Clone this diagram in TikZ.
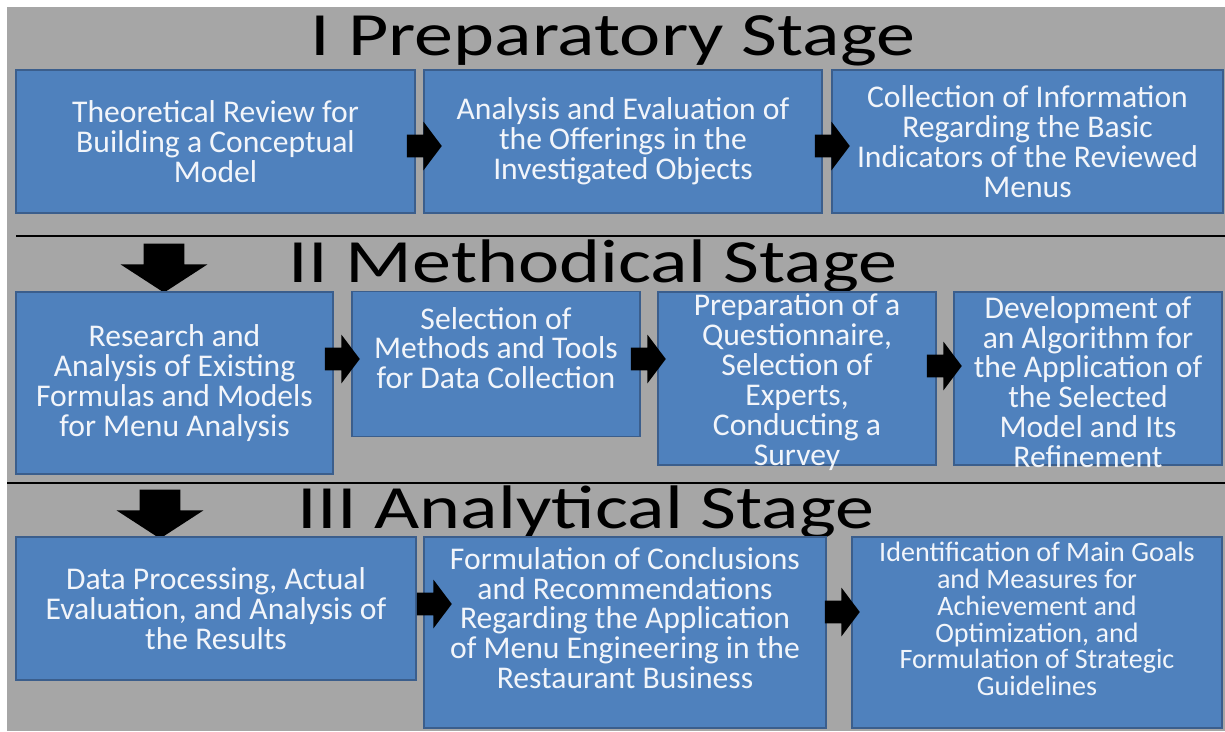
\documentclass[tikz,border=0pt]{standalone}
\usepackage{fontspec}
\setmainfont{Carlito}
\newfontfamily\stagefont{Carlito}[FakeStretch=1.27]
\usetikzlibrary{shapes.arrows}
\definecolor{bgray}{HTML}{A6A6A6}
\definecolor{bblue}{HTML}{4F81BD}
\definecolor{bline}{HTML}{3B5E8C}
\definecolor{btext}{HTML}{F2F5FA}

\begin{document}
\begin{tikzpicture}[x=0.02cm,y=-0.02cm]
  \tikzstyle{box}=[draw=bline,fill=bblue,line width=1pt,inner sep=0pt]
  \tikzstyle{txt}=[text=btext,align=center,inner sep=0pt,font=\fontsize{18}{17}\selectfont]
  \tikzstyle{ttl}=[anchor=base,inner sep=0pt,font=\stagefont\fontsize{35}{35}\selectfont]
  \tikzstyle{ar}=[single arrow,fill=black,inner xsep=0pt,inner ysep=0.22cm,minimum height=0.7cm,single arrow head extend=0.26cm,single arrow tip angle=106]
  \tikzstyle{dar}=[single arrow,rotate=-90,fill=black,inner xsep=0pt,inner ysep=0.4cm,minimum height=0.98cm,single arrow head extend=0.46cm,single arrow tip angle=114]

  \useasboundingbox (0,0) rectangle (1225,731);
  \fill[white] (0,0) rectangle (1225,731);
  \fill[bgray] (7,7) rectangle (1225,731);

  % stage I
  \node[ttl] (H1) at (613,55) {I Preparatory Stage};
  \node[box,minimum width=7.98cm,minimum height=2.86cm] (B1) at (215.5,141.5) {};
  \node[box,minimum width=7.96cm,minimum height=2.86cm] (B2) at (623,141.5) {};
  \node[box,minimum width=7.82cm,minimum height=2.86cm] (B3) at (1027.5,141.5) {};
  \node[txt] (T1) at (B1) {Theoretical Review for\\Building a Conceptual\\Model};
  \node[txt] (T2) at (B2) {Analysis and Evaluation of\\the Offerings in the\\Investigated Objects};
  \node[txt] (T3) at (B3) {Collection of Information\\Regarding the Basic\\Indicators of the Reviewed\\Menus};
  \node[ar] (A1) at (420,146) {};
  \node[ar] (A2) at (828,146) {};

  \coordinate (L1a) at (16,236);
  \coordinate (L1b) at (1225,236);
  \draw[line width=1.4pt] (L1a) -- (L1b);
  \node[dar] (V1) at (164,261.5) {};

  % stage II
  \node[ttl] (H2) at (593,282) {II Methodical Stage};
  \node[box,minimum width=6.34cm,minimum height=3.64cm] (B4) at (174.5,383) {};
  \node[box,minimum width=5.76cm,minimum height=2.9cm] (B5) at (496,364) {};
  \node[box,minimum width=5.56cm,minimum height=3.46cm] (B6) at (797,378.5) {};
  \node[box,minimum width=5.36cm,minimum height=3.46cm] (B7) at (1088,378.5) {};
  \node[txt] (T4) at (B4) {Research and\\Analysis of Existing\\Formulas and Models\\for Menu Analysis};
  \node[txt] (T5) at (496,348) {Selection of\\Methods and Tools\\for Data Collection};
  \node[txt] (T6) at (797,382) {Preparation of a\\Questionnaire,\\Selection of\\Experts,\\Conducting a\\Survey};
  \node[txt] (T7) at (1088,382) {Development of\\an Algorithm for\\the Application of\\the Selected\\Model and Its\\Refinement};
  \node[ar] (A3) at (338,359) {};
  \node[ar] (A4) at (644,359) {};
  \node[ar] (A5) at (940,366) {};

  \coordinate (L2a) at (7,483);
  \coordinate (L2b) at (1225,483);
  \draw[line width=1.4pt] (L2a) -- (L2b);
  \node[dar] (V2) at (160,507.5) {};

  % stage III
  \node[ttl] (H3) at (586,528) {III Analytical Stage};
  \node[box,minimum width=8cm,minimum height=2.86cm] (B8) at (216,608.5) {};
  \node[box,minimum width=8.04cm,minimum height=3.82cm] (B9) at (625,632.5) {};
  \node[box,minimum width=7.4cm,minimum height=3.82cm] (B10) at (1037,632.5) {};
  \node[txt] (T8) at (B8) {Data Processing, Actual\\Evaluation, and Analysis of\\the Results};
  \node[txt] (T9) at (625,618) {Formulation of Conclusions\\and Recommendations\\Regarding the Application\\of Menu Engineering in the\\Restaurant Business};
  \node[txt,font=\fontsize{16}{15.3}\selectfont] (T10) at (1037,619) {Identification of Main Goals\\and Measures for\\Achievement and\\Optimization, and\\Formulation of Strategic\\Guidelines};
  \node[ar] (A6) at (430,604) {};
  \node[ar] (A7) at (838,612) {};
\end{tikzpicture}
\end{document}
